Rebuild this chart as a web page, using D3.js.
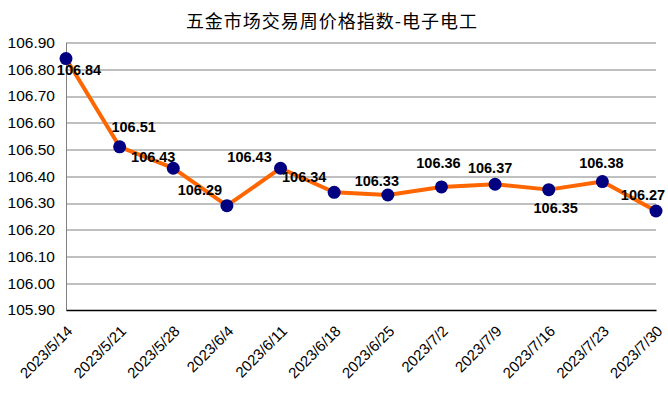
<!DOCTYPE html>
<html>
<head>
<meta charset="utf-8">
<script src="https://cdn.jsdelivr.net/npm/d3@7"></script>
<style>
  body { margin: 0; background: #fff; }
  text { font-family: "Liberation Sans", Arial, sans-serif; }
</style>
</head>
<body>
<div id="chart"></div>
<script>
// data
var dates = ["2023/5/14", "2023/5/21", "2023/5/28", "2023/6/4", "2023/6/11", "2023/6/18",
             "2023/6/25", "2023/7/2", "2023/7/9", "2023/7/16", "2023/7/23", "2023/7/30"];
var values = [106.84, 106.51, 106.43, 106.29, 106.43, 106.34, 106.33, 106.36, 106.37, 106.35, 106.38, 106.27];
var yTicks = [105.90, 106.00, 106.10, 106.20, 106.30, 106.40, 106.50, 106.60, 106.70, 106.80, 106.90];
var title = "五金市场交易周价格指数-电子电工";

// where each value label sits relative to its point (dx, dy of baseline)
var labelShift = [[13, 16], [14, -15], [-20, -6], [-27, -11], [-31, -6], [-30, -10],
                  [-11, -9], [-3, -19], [-5, -11], [7, 23], [-1, -14], [-13, -11]];

var W = 668, H = 397;
var margin = {top: 42.5, right: 12, bottom: 87, left: 66};
var width = W - margin.left - margin.right,
    height = H - margin.top - margin.bottom;

var svg = d3.select("#chart").append("svg")
    .attr("width", W).attr("height", H);

svg.append("text")
  .attr("x", 332).attr("y", 28)
  .attr("text-anchor", "middle")
  .style("font-family", "'Noto Sans CJK SC', sans-serif")
  .style("font-size", "18px")
  .style("letter-spacing", "1px")
  .text(title);

var g = svg.append("g")
  .attr("transform", "translate(" + margin.left + "," + margin.top + ")");

var x = d3.scalePoint().domain(dates).range([0, width]);
var y = d3.scaleLinear().domain([105.9, 106.9]).range([height, 0]);

// gridlines
g.selectAll(".grid")
  .data(yTicks.slice(1))
  .enter().append("line")
  .attr("x1", 0).attr("x2", width)
  .attr("y1", function(d){ return Math.round(y(d)) + 0.5; })
  .attr("y2", function(d){ return Math.round(y(d)) + 0.5; })
  .style("stroke", "#808080").style("stroke-width", 1);

// y axis
var yAxis = g.append("g")
  .call(d3.axisLeft(y).tickValues(yTicks).tickSize(0).tickPadding(11)
        .tickFormat(d3.format(".2f")));
yAxis.select(".domain").style("stroke", "#808080");
yAxis.selectAll("text")
  .style("font-size", "15.5px")
  .attr("fill", "#000");

// x axis
var xAxis = g.append("g")
  .attr("transform", "translate(0," + height + ")")
  .call(d3.axisBottom(x).tickSize(0));
xAxis.select(".domain").style("stroke", "#000").style("stroke-width", 1.5);
xAxis.selectAll("text")
  .style("font-size", "15px")
  .attr("fill", "#000")
  .attr("text-anchor", "end")
  .attr("dy", null).attr("y", 0)
  .attr("transform", "translate(7,22) rotate(-45)");

// line
var line = d3.line()
  .x(function(d, i){ return x(dates[i]); })
  .y(function(d){ return y(d); });

g.append("path")
  .datum(values)
  .attr("d", line)
  .style("fill", "none")
  .style("stroke", "#FF6600")
  .style("stroke-width", 4)
  .style("stroke-linejoin", "round");

g.selectAll(".dot")
  .data(values)
  .enter().append("circle")
  .attr("cx", function(d, i){ return x(dates[i]); })
  .attr("cy", function(d){ return y(d); })
  .attr("r", 6.5)
  .style("fill", "#000080");

g.selectAll(".lbl")
  .data(values)
  .enter().append("text")
  .attr("x", function(d, i){ return x(dates[i]) + labelShift[i][0]; })
  .attr("y", function(d, i){ return y(d) + labelShift[i][1]; })
  .attr("text-anchor", "middle")
  .style("font-size", "14.5px")
  .style("font-weight", "bold")
  .text(function(d){ return d.toFixed(2); });
</script>
</body>
</html>
